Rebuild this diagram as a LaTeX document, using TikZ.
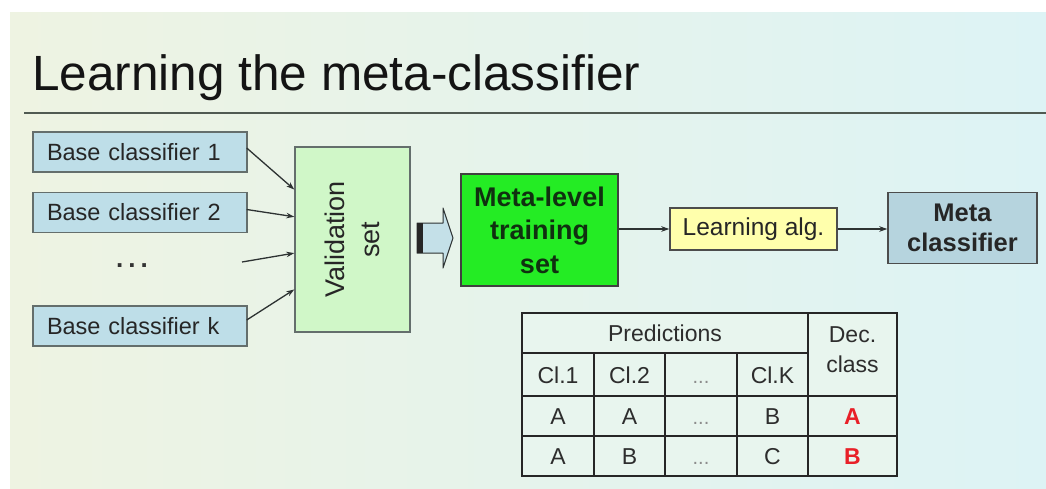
\documentclass[tikz,border=0pt]{standalone}
\usepackage{fontspec}
\setmainfont{Liberation Sans}
\usetikzlibrary{arrows.meta,calc}

\definecolor{bgL}{RGB}{238,243,226}
\definecolor{bgM}{RGB}{229,244,235}
\definecolor{bgR}{RGB}{221,243,245}
\definecolor{baseblue}{RGB}{190,222,232}
\definecolor{valgreen}{RGB}{208,247,200}
\definecolor{brightgreen}{RGB}{36,236,36}
\definecolor{paleyellow}{RGB}{255,255,172}
\definecolor{metablue}{RGB}{182,212,222}
\definecolor{arrowblue}{RGB}{196,224,232}
\definecolor{edgegray}{RGB}{100,110,108}
\definecolor{linegray}{RGB}{45,50,50}
\definecolor{rulegray}{RGB}{80,90,82}
\definecolor{tabletext}{RGB}{45,45,45}
\definecolor{tablefill}{RGB}{232,245,238}
\definecolor{decred}{RGB}{232,32,40}
\definecolor{darkgreentext}{RGB}{16,48,16}

\begin{document}
\begin{tikzpicture}[x=1pt,y=-1pt,
  box/.style={draw=edgegray, line width=1.4pt, inner sep=0pt},
  basebox/.style={box, fill=baseblue, minimum height=40pt, text width=186pt,
    align=left, inner xsep=14pt, text=black!85,
    font=\fontsize{23.5}{28}\selectfont},
  link/.style={draw=linegray, line width=1.3pt, -{Stealth[length=8pt,width=5.5pt]}},
  cell/.style={anchor=base, text=tabletext, font=\fontsize{23}{27}\selectfont},
  redcell/.style={anchor=base, text=decred, font=\bfseries\fontsize{23}{27}\selectfont},
  dotcell/.style={anchor=base, text=black!45, font=\fontsize{20}{24}\selectfont},
  grid/.style={draw=black!85, line width=1.3pt}]

\useasboundingbox (0,0) rectangle (1046,488);
\fill[white] (0,0) rectangle (1046,488);
\shade[left color=bgL, middle color=bgM, right color=bgR] (10,12) rectangle (1046,488);

% heading and rule
\node[anchor=base west, inner sep=0pt, text=black!92,
      font=\fontsize{49.5}{58}\selectfont] (title) at (32,90) {Learning the meta-classifier};
\draw[rulegray, line width=2.5pt] (24,113) -- (1046,113);

% base classifiers
\node[basebox] (b1) at (140,152)   {Base classifier 1};
\node[basebox] (b2) at (140,212.5) {Base classifier 2};
\node[inner sep=0pt, text=black!80, font=\bfseries\fontsize{26}{28}\selectfont]
  (bdots) at (132,266) {.\hspace{5pt}.\hspace{5pt}.};
\node[basebox] (bk) at (140,326)   {Base classifier k};
\coordinate (dotsend) at (242,262);

% validation set
\node[box, fill=valgreen, minimum width=115pt, minimum height=185pt] (val) at (352.5,239.5) {};
\node[rotate=90, align=center, inner sep=0pt, text=black!85,
      font=\fontsize{27}{35}\selectfont] (valtext) at (val.center) {Validation\\set};

\draw[link] ($(b1.east)+(-1,-4)$) -- ($(val.north west)!0.232!(val.south west)$);
\draw[link] ($(b2.east)+(-1,-3)$) -- ($(val.north west)!0.378!(val.south west)$);
\draw[link] (dotsend)             -- ($(val.north west)!0.573!(val.south west)$);
\draw[link] ($(bk.east)+(-1,-6)$) -- ($(val.north west)!0.768!(val.south west)$);

% block arrow
\draw[fill=arrowblue, draw=linegray, line width=1pt, line join=round]
  (417,223) -- (443,223) -- (443,208) -- (453,238) -- (443,268) -- (443,253) -- (417,253) -- cycle;
\fill[black!85] (417,223) rectangle (423,253);

% meta-level training set, learner, meta classifier
\node[box, draw=black!75, fill=brightgreen, minimum width=157pt, minimum height=112pt,
      align=center, text=darkgreentext, font=\bfseries\fontsize{27}{33.5}\selectfont]
  (meta) at (539.5,230) {Meta-level\\training\\set};
\node[box, draw=black!70, fill=paleyellow, minimum width=167pt, minimum height=42pt,
      text=black!85, font=\fontsize{24.5}{29}\selectfont]
  (learn) at (753.5,229) {Learning alg.};
\node[box, draw=black!70, fill=metablue, minimum width=149pt, minimum height=71pt,
      align=center, text=black!85, font=\bfseries\fontsize{25.5}{30}\selectfont]
  (mc) at (962.5,228) {Meta\\classifier};

\draw[link] (meta.east |- learn.west) -- (learn.west);
\draw[link] (learn.east) -- (mc.west |- learn.east);

% decision table
\fill[tablefill] (522,313) rectangle (897,476);
\draw[grid] (522,353) -- (808,353);
\draw[grid] (522,396) -- (897,396);
\draw[grid] (522,436) -- (897,436);
\draw[grid] (594,353) -- (594,476);
\draw[grid] (665,353) -- (665,476);
\draw[grid] (737,353) -- (737,476);
\draw[grid] (808,313) -- (808,476);
\draw[draw=black!85, line width=2.6pt] (522,313) rectangle (897,476);

\node[cell] (pred) at (665,341) {Predictions};
\node[anchor=center, align=center, text=tabletext, font=\fontsize{23}{30}\selectfont]
  (dec) at (852.5,350) {Dec.\\class};

\node[cell] (h1) at (558,383)   {Cl.1};
\node[cell] (h2) at (629.5,383) {Cl.2};
\node[dotcell] (h3) at (701,383) {...};
\node[cell] (h4) at (772.5,383) {Cl.K};

\node[cell] (r11) at (558,424)   {A};
\node[cell] (r12) at (629.5,424) {A};
\node[dotcell] (r13) at (701,424) {...};
\node[cell] (r14) at (772.5,424) {B};
\node[redcell] (r15) at (852.5,424) {A};

\node[cell] (r21) at (558,464)   {A};
\node[cell] (r22) at (629.5,464) {B};
\node[dotcell] (r23) at (701,464) {...};
\node[cell] (r24) at (772.5,464) {C};
\node[redcell] (r25) at (852.5,464) {B};
\end{tikzpicture}
\end{document}
